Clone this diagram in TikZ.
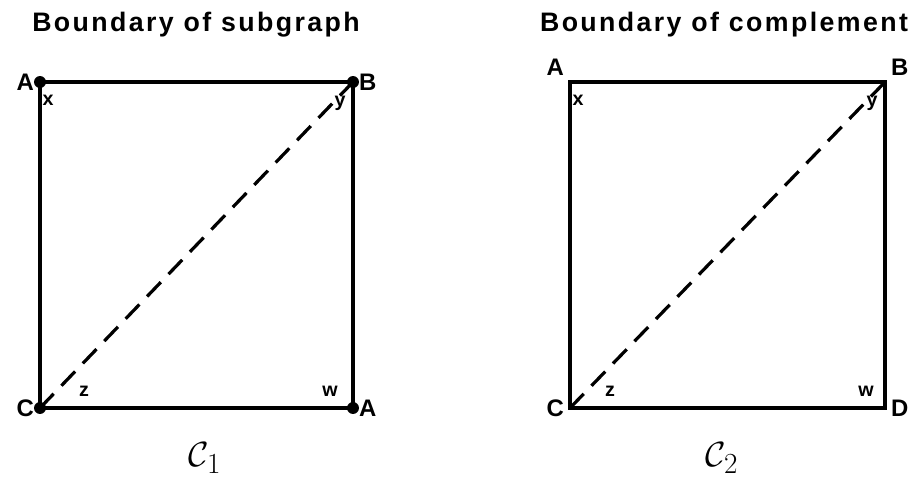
\documentclass[tikz,border=0pt]{standalone}
\usepackage{amsmath}
\usepackage{fontspec}
\newfontfamily\titlefont[LetterSpace=9]{Liberation Sans}
\newfontfamily\labelfont{Liberation Sans}
\begin{document}
\begin{tikzpicture}[x=.025cm,y=-.025cm,line width=2.6pt,
  title/.style={font=\titlefont\bfseries\fontsize{19}{19}\selectfont},
  corner/.style={font=\labelfont\bfseries\fontsize{17}{17}\selectfont,inner sep=3pt},
  angle/.style={font=\labelfont\bfseries\fontsize{14}{14}\selectfont},
  diag/.style={dash pattern=on 14pt off 8pt,line width=2.3pt},
  dot/.style={circle,fill,inner sep=0pt,minimum size=8.5pt}]
\useasboundingbox (0,0) rectangle (912,486);
\coordinate (A1) at (40,82);\coordinate (B1) at (353,82);\coordinate (C1) at (40,408);\coordinate (D1) at (353,408);
\coordinate (A2) at (570,82);\coordinate (B2) at (885,82);\coordinate (C2) at (570,408);\coordinate (D2) at (885,408);
\draw (A1)--(B1)--(D1)--(C1)--cycle;\draw[diag] (C1)--(B1);
\draw (A2)--(B2)--(D2)--(C2)--cycle;\draw[diag] (C2)--(B2);
\foreach \p in {A1,B1,C1,D1} \node[dot] at (\p) {};
\node[title] (t1) at (196,25) {Boundary of subgraph};
\node[title] (t2) at (724,25) {Boundary of complement};
\node[corner,left] (lA1) at (A1) {A};\node[corner,right] (lB1) at (B1) {B};
\node[corner,left] (lC1) at (C1) {C};\node[corner,right] (lD1) at (D1) {A};
\node[corner,above left] (lA2) at (A2) {A};\node[corner,above right] (lB2) at (B2) {B};
\node[corner,left] (lC2) at (C2) {C};\node[corner,right] (lD2) at (D2) {D};
\node[angle] (x1) at (48,100) {x};\node[angle] (y1) at (340,103) {y};
\node[angle] (z1) at (84,391) {z};\node[angle] (w1) at (330,391) {w};
\node[angle] (x2) at (578,100) {x};\node[angle] (y2) at (872,103) {y};
\node[angle] (z2) at (610,391) {z};\node[angle] (w2) at (866,391) {w};
\node[font=\fontsize{32}{32}\selectfont] (c1) at (205,458) {$\mathcal{C}_1$};
\node[font=\fontsize{32}{32}\selectfont] (c2) at (722,458) {$\mathcal{C}_2$};
\end{tikzpicture}
\end{document}
